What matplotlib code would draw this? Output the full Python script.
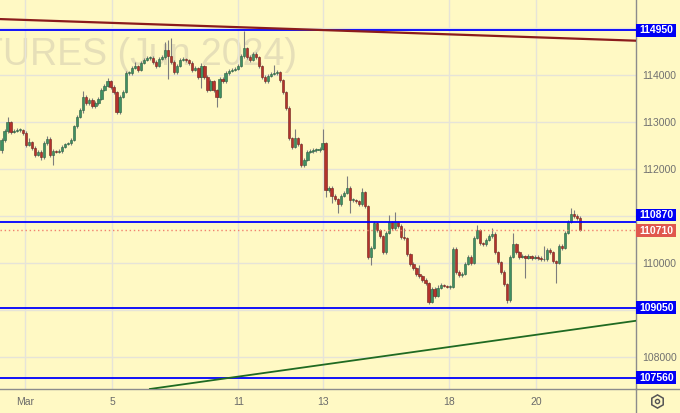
import numpy as np
import matplotlib
matplotlib.use("Agg")
import matplotlib.pyplot as plt
from matplotlib.patches import Rectangle
from matplotlib.lines import Line2D
from matplotlib.transforms import blended_transform_factory

plt.rcParams['font.family'] = ['Liberation Sans', 'DejaVu Sans']

# hourly candles
closes = [
    112620, 112810, 113000, 112790, 112810, 112830, 112830, 112770, 112510, 112570,
    112450, 112300, 112360, 112260, 112550, 112640, 112300, 112380, 112360, 112380,
    112470, 112530, 112550, 112620, 112910, 113110, 113250, 113530, 113400, 113470,
    113340, 113400, 113490, 113680, 113770, 113870, 113740, 113640, 113210, 113530,
    113640, 114040, 114040, 114150, 114190, 114110, 114260, 114320, 114360, 114360,
    114280, 114190, 114340, 114380, 114530, 114400, 114280, 114060, 114190, 114320,
    114340, 114320, 114260, 114110, 114150, 113960, 114190, 113960, 113680, 113870,
    113680, 113530, 113910, 113870, 114040, 114090, 114110, 114130, 114190, 114400,
    114570, 114380, 114320, 114450, 114380, 114190, 113960, 113870, 113980, 114020,
    114040, 114060, 113890, 113640, 113300, 112660, 112470, 112660, 112530, 112080,
    112190, 112360, 112380, 112400, 112400, 112430, 112550, 111550, 111600, 111430,
    111360, 111250, 111430, 111490, 111600, 111340, 111340, 111320, 111250, 111510,
    111210, 110130, 110320, 110850, 110700, 110570, 110230, 110640, 110870, 110740,
    110870, 110790, 110550, 110530, 110190, 109980, 109890, 109770, 109720, 109640,
    109570, 109170, 109450, 109300, 109470, 109530, 109510, 109490, 109490, 110300,
    109810, 109740, 109770, 109980, 110130, 110000, 110530, 110700, 110420, 110400,
    110490, 110570, 110620, 110230, 110020, 109810, 109550, 109210, 110130, 110400,
    110230, 110130, 110150, 110110, 110150, 110110, 110130, 110110, 110080, 110080,
    110280, 110230, 110040, 110000, 110360, 110320, 110640, 110870, 111040, 111000,
    110960, 110710,
]
highs = [
    112660, 112850, 113110, 113030, 112850, 112870, 112870, 112860, 112800, 112660,
    112600, 112480, 112400, 112400, 112590, 112700, 112670, 112420, 112400, 112420,
    112500, 112560, 112580, 112650, 112940, 113150, 113300, 113660, 113580, 113510,
    113500, 113440, 113530, 113720, 113810, 113940, 113900, 113780, 113670, 113570,
    113680, 114080, 114080, 114190, 114280, 114220, 114300, 114360, 114400, 114400,
    114400, 114310, 114380, 114420, 114700, 114740, 114790, 114310, 114230, 114360,
    114380, 114370, 114350, 114290, 114190, 114180, 114260, 114220, 113990, 113910,
    113900, 113710, 113950, 113950, 114080, 114130, 114150, 114170, 114230, 114440,
    114940, 114600, 114420, 114490, 114480, 114410, 114220, 113990, 114020, 114060,
    114210, 114100, 114090, 113920, 113670, 113330, 112690, 112850, 112690, 112560,
    112230, 112400, 112420, 112440, 112440, 112470, 112850, 112580, 111640, 111630,
    111460, 111390, 111470, 111530, 111850, 111630, 111380, 111370, 111350, 111600,
    111540, 111240, 110360, 110890, 110880, 110730, 110600, 110680, 111020, 110900,
    111080, 110900, 110820, 110740, 110560, 110220, 110020, 109920, 109960, 109750,
    109670, 109600, 109490, 109480, 109540, 109570, 109560, 109540, 109530, 110340,
    110330, 109840, 109810, 110020, 110170, 110160, 110570, 110810, 110730, 110450,
    110530, 110610, 110740, 110650, 110260, 110050, 109840, 109580, 110170, 110640,
    110430, 110260, 110190, 110180, 110190, 110180, 110170, 110160, 110140, 110360,
    110320, 110310, 110260, 110070, 110400, 110400, 110680, 110910, 111170, 111130,
    111040, 111000,
]
lows = [
    112340, 112580, 112770, 112750, 112760, 112780, 112790, 112730, 112470, 112480,
    112410, 112260, 112270, 112190, 112220, 112510, 112260, 112080, 112330, 112330,
    112350, 112440, 112500, 112520, 112590, 112880, 113080, 113200, 113360, 113370,
    113300, 113300, 113370, 113460, 113650, 113740, 113700, 113600, 113170, 113180,
    113500, 113610, 114000, 114010, 114120, 114070, 114080, 114230, 114290, 114320,
    114240, 114150, 114160, 114310, 114350, 113910, 114240, 114020, 114030, 114160,
    114290, 114280, 114220, 114070, 114080, 113920, 113720, 113920, 113640, 113650,
    113640, 113320, 113500, 113830, 113840, 114010, 114060, 114080, 114100, 114160,
    114370, 114340, 114280, 114290, 114340, 114150, 113920, 113830, 113840, 113950,
    113990, 114010, 113850, 113600, 113260, 112620, 112430, 112440, 112490, 112040,
    112050, 112160, 112330, 112350, 112360, 112370, 112400, 111400, 111510, 111280,
    111320, 111060, 111220, 111400, 111460, 111060, 111300, 111280, 111210, 111220,
    111170, 110090, 109960, 110290, 110660, 110530, 110190, 110200, 110610, 110700,
    110710, 110750, 110510, 110490, 110150, 109940, 109850, 109730, 109680, 109600,
    109530, 109130, 109140, 109260, 109270, 109440, 109480, 109460, 109450, 109460,
    109770, 109700, 109710, 109740, 109950, 109960, 109970, 110500, 110380, 110360,
    110370, 110460, 110540, 110190, 109980, 109770, 109510, 109150, 109180, 110100,
    110190, 110090, 110100, 109680, 110080, 110070, 110080, 110070, 110040, 110040,
    110050, 110190, 110000, 109570, 109970, 110280, 110290, 110610, 110840, 110960,
    110920, 110680,
]
first_open = 112400
opens = [first_open] + closes[:-1]

date_ticks = [7.9, 36.6, 78.2, 106.0, 147.9, 176.6]
date_labels = ["Mar", "5", "11", "13", "18", "20"]

price_ticks = [108000, 109000, 110000, 111000, 112000, 113000, 114000, 115000]
price_labels = ["108000", "", "110000", "", "112000", "113000", "114000", ""]

levels = [114950, 110870, 109050, 107560]
last_price = 110710

# label boxes on the price scale (value, centre of box, colour)
level_boxes = [
    (114950, 114950, '#0000f5'),
    (110870, 111020, '#0000f5'),
    (last_price, 110690, '#e0574d'),
    (109050, 109050, '#0000f5'),
    (107560, 107560, '#0000f5'),
]

# trend lines: (bar index, price) anchors
res_x, res_y = [-0.5, 209.5], [115190, 114730]
sup_x, sup_y = [49.0, 209.5], [107318, 108770]

bg = '#fff9c4'
fig = plt.figure(figsize=(6.8, 4.13), dpi=100, facecolor=bg)
ax = fig.add_axes([0, 24 / 413, 636 / 680, 389 / 413], facecolor=bg)
ax.set_xlim(-0.5, 209.5)
ax.set_ylim(107318, 115596)

ax.grid(True, color='#e6e4d8', lw=1, zorder=0)

# watermark
ax.text(297 / 636, 1 - 65 / 389, "FUTURES (Jun 2024)", transform=ax.transAxes,
        ha='right', va='baseline', fontsize=27, color='#e6dfb8', zorder=1)

idx = np.arange(len(closes))
o = np.array(opens, dtype=float)
c = np.array(closes, dtype=float)
up = c >= o
bottom = np.minimum(o, c)
height = np.maximum(np.abs(c - o), 15)

ax.vlines(idx, lows, highs, color='#7d7d7d', lw=0.8, zorder=3)
ax.bar(idx[up], height[up], bottom=bottom[up], width=0.75, color='#3f9062',
       edgecolor='#2b5f41', linewidth=0.4, zorder=4)
ax.bar(idx[~up], height[~up], bottom=bottom[~up], width=0.75, color='#b5322c',
       edgecolor='#70201b', linewidth=0.4, zorder=4)

for lv in levels:
    ax.axhline(lv, color='#0000ff', lw=1.3, zorder=5)
ax.axhline(last_price, color='#f0806e', lw=1, ls=(0, (1, 2)), zorder=5)

ax.plot(res_x, res_y, color='#8b1c1c', lw=1.6, zorder=6)
ax.plot(sup_x, sup_y, color='#1f6a22', lw=1.3, zorder=6)

ax.set_xticks(date_ticks)
ax.set_xticklabels(date_labels)
ax.set_yticks(price_ticks)
ax.set_yticklabels(price_labels)
ax.yaxis.tick_right()
ax.tick_params(axis='y', length=0, pad=4.5, labelsize=7.5, labelcolor='#707070')
ax.tick_params(axis='x', length=0, pad=6, labelsize=7.5, labelcolor='#6a6a6a')

for side in ['top', 'left']:
    ax.spines[side].set_visible(False)
for side in ['right', 'bottom']:
    ax.spines[side].set_color('#8c8c8c')
    ax.spines[side].set_linewidth(1)

fig.add_artist(Line2D([636 / 680, 1], [24 / 413, 24 / 413], color='#8c8c8c', lw=1,
                      transform=fig.transFigure))
fig.add_artist(Line2D([636 / 680, 636 / 680], [0, 24 / 413], color='#8c8c8c', lw=1,
                      transform=fig.transFigure))

# price boxes on the right scale
trans = blended_transform_factory(ax.transAxes, ax.transData)
box_w = 40 / 636
box_h = 275
for lv, yy, col in level_boxes:
    ax.add_patch(Rectangle((1.0, yy - box_h / 2), box_w, box_h, transform=trans,
                           facecolor=col, edgecolor='none', clip_on=False, zorder=7))
    ax.text(1.0 + 3 / 636, yy, str(lv), transform=trans, ha='left', va='center',
            fontsize=7.5, fontweight='bold', color='white', clip_on=False, zorder=8)

# settings icon
fig.add_artist(Line2D([657 / 680], [1 - 401 / 413], marker='h', markersize=9.5,
                      mfc='none', mec='#555555', mew=1.1, transform=fig.transFigure))
fig.add_artist(Line2D([657 / 680], [1 - 401 / 413], marker='o', markersize=3,
                      mfc='none', mec='#555555', mew=1.0, transform=fig.transFigure))

fig.savefig("out.png", dpi=100, facecolor=bg)
